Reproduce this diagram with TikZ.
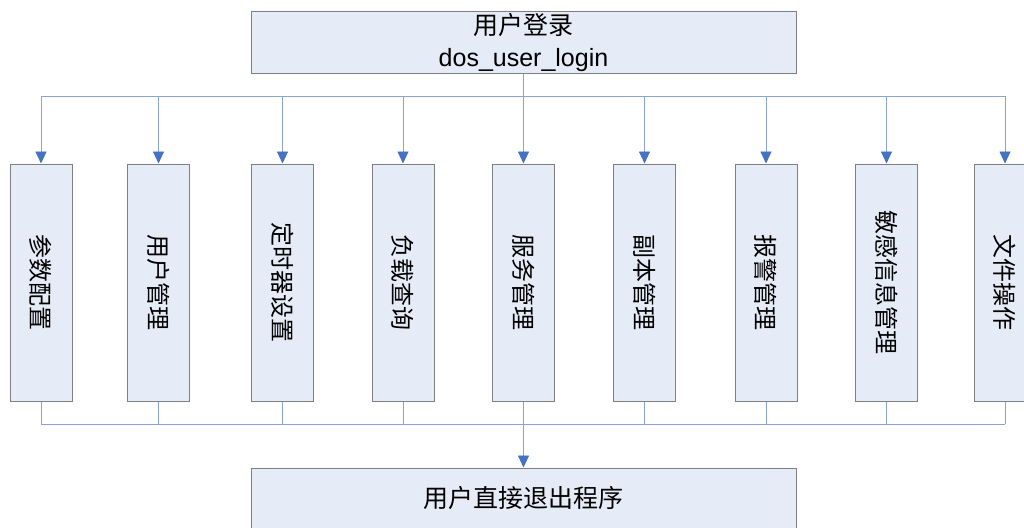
\documentclass[tikz,border=0pt]{standalone}
\usepackage{fontspec}
\usepackage{graphicx}
\setmainfont{Liberation Sans}
\newfontfamily\cjk{Noto Sans CJK SC}
\usetikzlibrary{arrows.meta}
\definecolor{boxfill}{HTML}{E6ECF7}
\definecolor{boxline}{HTML}{7F7F7F}
\definecolor{connc}{HTML}{8AA4D2}
\definecolor{tipc}{HTML}{4472C4}
\begin{document}
\begin{tikzpicture}[x=1pt,y=-1pt,
  box/.style={draw=boxline, fill=boxfill, line width=1pt, inner sep=0pt},
  vbox/.style={box, minimum width=62pt, minimum height=237pt, font=\cjk\fontsize{24}{26}\selectfont},
  conn/.style={draw=connc, line width=0.9pt},
  arr/.style={conn, -{Triangle[length=12pt,width=11pt,fill=tipc,color=tipc]}}]
\useasboundingbox (0,0) rectangle (1024,527);
\clip (0,0) rectangle (1024,527);
\fill[white] (0,0) rectangle (1024,527);
\node[box, minimum width=545pt, minimum height=61pt, align=center,
  font=\fontsize{25}{32}\selectfont] (top) at (523.5,42.5) {{\cjk 用户登录}\\dos\_user\_login};
\node[vbox] (b1) at (41,282.5) {\rotatebox{-90}{参数配置}};
\node[vbox] (b2) at (158.5,282.5) {\rotatebox{-90}{用户管理}};
\node[vbox] (b3) at (282.5,282.5) {\rotatebox{-90}{定时器设置}};
\node[vbox] (b4) at (403,282.5) {\rotatebox{-90}{负载查询}};
\node[vbox] (b5) at (523.5,282.5) {\rotatebox{-90}{服务管理}};
\node[vbox] (b6) at (644.5,282.5) {\rotatebox{-90}{副本管理}};
\node[vbox] (b7) at (766,282.5) {\rotatebox{-90}{报警管理}};
\node[vbox] (b8) at (886.5,282.5) {\rotatebox{-90}{敏感信息管理}};
\node[vbox] (b9) at (1005,282.5) {\rotatebox{-90}{文件操作}};
\node[box, minimum width=545pt, minimum height=60pt,
  font=\cjk\fontsize{25}{30}\selectfont] (bot) at (523.5,498) {用户直接退出程序};
\coordinate (topbus) at (523.5,96);
\coordinate (botbus) at (523.5,424);
\draw[conn] (top.south) -- (topbus);
\draw[conn] (b1.north|-topbus) -- (b9.north|-topbus);
\draw[conn] (b1.south|-botbus) -- (b9.south|-botbus);
\foreach \b in {b1,b2,b3,b4,b5,b6,b7,b8,b9}{
  \draw[arr] (\b.north|-topbus) -- (\b.north);
  \draw[conn] (\b.south) -- (\b.south|-botbus);
}
\draw[arr] (botbus) -- (bot.north);
\end{tikzpicture}
\end{document}
